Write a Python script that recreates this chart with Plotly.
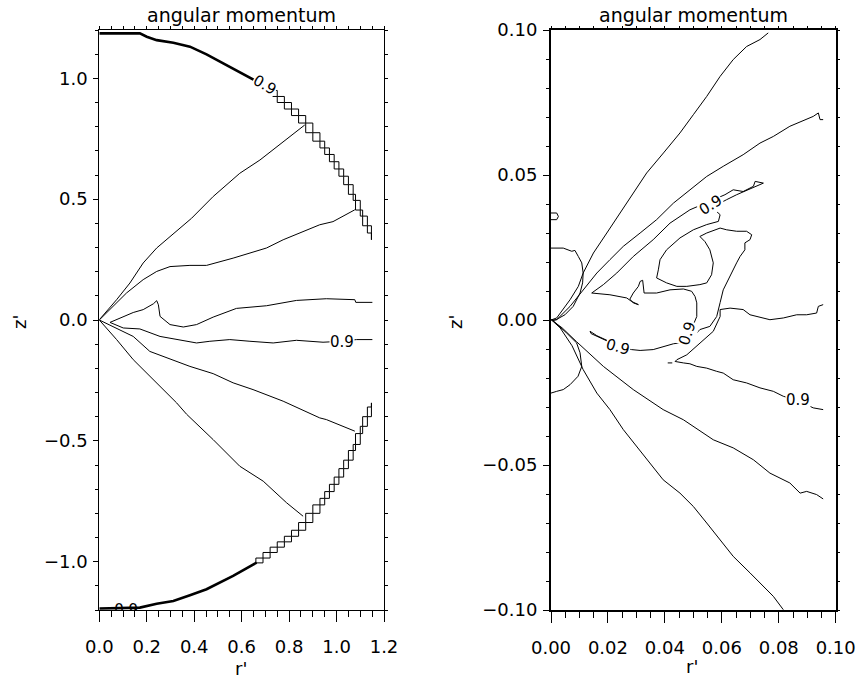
import plotly.graph_objects as go

# ---------------- left panel (r' 0..1.2, z' -1.2..1.2) ----------------
L_bnd_top_r = [0.0, 0.171, 0.200, 0.242, 0.312, 0.382, 0.452, 0.564, 0.663]
L_bnd_top_z = [1.186, 1.186, 1.172, 1.158, 1.147, 1.131, 1.099, 1.041, 0.988]
L_stair_top_r = [0.66, 0.69, 0.72, 0.75, 0.78, 0.81, 0.84, 0.87, 0.90, 0.93, 0.95, 0.97,
                 0.99, 1.01, 1.03, 1.05, 1.07, 1.08, 1.10, 1.11, 1.13, 1.147, 1.147]
L_stair_top_z = [0.99, 0.97, 0.95, 0.925, 0.90, 0.873, 0.846, 0.815, 0.775, 0.74, 0.712, 0.685,
                 0.655, 0.625, 0.595, 0.56, 0.52, 0.495, 0.455, 0.43, 0.39, 0.36, 0.332]
L_bnd_bot_r = [0.0, 0.171, 0.242, 0.312, 0.382, 0.452, 0.564, 0.663]
L_bnd_bot_z = [-1.194, -1.190, -1.174, -1.163, -1.139, -1.114, -1.059, -1.004]
L_stair_bot_r = [0.66, 0.69, 0.72, 0.75, 0.78, 0.81, 0.84, 0.87, 0.90, 0.93, 0.95, 0.97,
                 0.99, 1.01, 1.03, 1.05, 1.07, 1.08, 1.10, 1.11, 1.13, 1.147, 1.147]
L_stair_bot_z = [-1.005, -0.985, -0.962, -0.94, -0.918, -0.895, -0.87, -0.838, -0.80, -0.765, -0.738, -0.71,
                 -0.68, -0.65, -0.615, -0.58, -0.54, -0.515, -0.47, -0.44, -0.40, -0.36, -0.343]
L_ray1_top_r = [0.0, 0.031, 0.073, 0.129, 0.185, 0.242, 0.298, 0.389, 0.480, 0.592, 0.677, 0.747, 0.831, 0.866]
L_ray1_top_z = [0.001, 0.036, 0.084, 0.153, 0.236, 0.298, 0.346, 0.421, 0.511, 0.607, 0.662, 0.717, 0.779, 0.807]
L_ray2_top_r = [0.0, 0.045, 0.115, 0.185, 0.242, 0.298, 0.382, 0.452, 0.564, 0.705, 0.775, 0.929, 0.985, 1.077]
L_ray2_top_z = [0.0, 0.043, 0.112, 0.167, 0.201, 0.221, 0.226, 0.226, 0.256, 0.298, 0.332, 0.394, 0.407, 0.456]
L_ray1_bot_r = [0.0, 0.073, 0.143, 0.242, 0.326, 0.368, 0.438, 0.480, 0.592, 0.691, 0.789, 0.859]
L_ray1_bot_z = [0.0, -0.081, -0.164, -0.262, -0.343, -0.39, -0.453, -0.495, -0.605, -0.667, -0.756, -0.812]
L_ray2_bot_r = [0.0, 0.087, 0.143, 0.213, 0.284, 0.382, 0.480, 0.564, 0.648, 0.775, 0.929, 0.957, 1.077]
L_ray2_bot_z = [0.0, -0.040, -0.068, -0.130, -0.157, -0.192, -0.222, -0.260, -0.288, -0.336, -0.405, -0.412, -0.460]
L_inner_r = [1.151, 1.081, 1.077, 0.957, 0.831, 0.705, 0.578, 0.480, 0.410, 0.354, 0.298, 0.256, 0.249,
             0.242, 0.228, 0.185, 0.143, 0.101, 0.045, 0.101, 0.171, 0.256, 0.326, 0.410, 0.466, 0.550,
             0.635, 0.733, 0.831, 0.943, 1.021, 1.084, 1.151]
L_inner_z = [0.073, 0.073, 0.084, 0.088, 0.081, 0.059, 0.048, 0.012, -0.019, -0.029, -0.019, 0.015, 0.063,
             0.080, 0.067, 0.043, 0.031, 0.012, -0.010, -0.033, -0.037, -0.068, -0.081, -0.095, -0.088, -0.081,
             -0.088, -0.095, -0.084, -0.092, -0.088, -0.081, -0.081]

# ---------------- right panel (r' 0..0.1, z' -0.1..0.1) ----------------
R_a_top_r = [0.0, 0.0020, 0.0067, 0.0096, 0.0113, 0.0149, 0.0196, 0.0242, 0.0289, 0.0336, 0.0395, 0.0453,
             0.0500, 0.0547, 0.0594, 0.0640, 0.0687, 0.0734, 0.0763]
R_a_top_z = [0.0, 0.0007, 0.0070, 0.0116, 0.0162, 0.0231, 0.0300, 0.0369, 0.0438, 0.0507, 0.0576, 0.0645,
             0.0708, 0.0771, 0.0840, 0.0898, 0.0943, 0.0967, 0.0990]
R_b_top_r = [0.0, 0.0020, 0.0067, 0.0113, 0.0161, 0.0207, 0.0254, 0.0313, 0.0371, 0.0430, 0.0488, 0.0547,
             0.0605, 0.0675, 0.0734, 0.0781, 0.0839, 0.0921, 0.0939, 0.0945, 0.0956]
R_b_top_z = [0.0, 0.0001, 0.0047, 0.0104, 0.0162, 0.0208, 0.0254, 0.0300, 0.0346, 0.0403, 0.0449, 0.0495,
             0.0530, 0.0570, 0.0610, 0.0633, 0.0668, 0.0702, 0.0714, 0.0691, 0.0691]
R_fin_r = [0.0143, 0.0184, 0.0231, 0.0289, 0.0359, 0.0418, 0.0488, 0.0517, 0.0566, 0.0611, 0.0640, 0.0675,
           0.0711, 0.0717, 0.0746, 0.0734, 0.0687, 0.0652, 0.0617, 0.0594, 0.0582, 0.0594, 0.0588, 0.0547,
           0.0500, 0.0453, 0.0406, 0.0383, 0.0377, 0.0371, 0.0406, 0.0442, 0.0477, 0.0523, 0.0547, 0.0564,
           0.0570, 0.0558, 0.0541, 0.0523, 0.0547, 0.0594, 0.0617, 0.0652, 0.0687, 0.0705, 0.0699, 0.0681,
           0.0681, 0.0664, 0.0652, 0.0640, 0.0622, 0.0605, 0.0594, 0.0582, 0.0558, 0.0523, 0.0500, 0.0482]
R_fin_z = [0.0093, 0.0122, 0.0162, 0.0219, 0.0277, 0.0334, 0.0380, 0.0392, 0.0411, 0.0432, 0.0449, 0.0443,
           0.0461, 0.0478, 0.0472, 0.0467, 0.0449, 0.0432, 0.0415, 0.0403, 0.0374, 0.0363, 0.0340, 0.0329,
           0.0311, 0.0283, 0.0242, 0.0208, 0.0173, 0.0145, 0.0128, 0.0116, 0.0116, 0.0122, 0.0128, 0.0156,
           0.0197, 0.0242, 0.0270, 0.0288, 0.0300, 0.0317, 0.0311, 0.0306, 0.0306, 0.0294, 0.0277, 0.0266,
           0.0242, 0.0219, 0.0197, 0.0173, 0.0139, 0.0104, 0.0060, 0.0012, -0.0022, -0.0033, -0.0057, -0.0079]
R_low_r = [0.0143, 0.0207, 0.0266, 0.0283, 0.0307, 0.0289, 0.0277, 0.0289, 0.0307, 0.0313, 0.0322, 0.0327,
           0.0371, 0.0418, 0.0465, 0.0494, 0.0506, 0.0512, 0.0512, 0.0500, 0.0488, 0.0488, 0.0465, 0.0430,
           0.0394, 0.0359, 0.0313, 0.0283, 0.0236, 0.0196, 0.0161, 0.0137, 0.0141, 0.0184, 0.0201]
R_low_z = [0.0093, 0.0087, 0.0076, 0.0064, 0.0053, 0.0059, 0.0072, 0.0093, 0.0116, 0.0133, 0.0137, 0.0093,
           0.0093, 0.0104, 0.0107, 0.0099, 0.0081, 0.0059, 0.0012, -0.0016, -0.0044, -0.0068, -0.0077, -0.0082,
           -0.0093, -0.0102, -0.0105, -0.0102, -0.0093, -0.0070, -0.0054, -0.0039, -0.0047, -0.0066, -0.0074]
R_v_r = [0.0956, 0.0939, 0.0933, 0.0898, 0.0863, 0.0816, 0.0769, 0.0699, 0.0675, 0.0629, 0.0594, 0.0594,
         0.0570, 0.0523, 0.0477, 0.0442, 0.0436, 0.0465, 0.0488, 0.0512, 0.0547, 0.0582, 0.0605, 0.0640,
         0.0687, 0.0734, 0.0781, 0.0816, 0.0868, 0.0921, 0.0956]
R_v_z = [0.0053, 0.0047, 0.0024, 0.0018, 0.0018, 0.0007, 0.0001, 0.0018, 0.0036, 0.0041, 0.0036, 0.0012,
         -0.0039, -0.0079, -0.0120, -0.0137, -0.0143, -0.0148, -0.0151, -0.0160, -0.0166, -0.0177, -0.0183, -0.0206,
         -0.0217, -0.0234, -0.0246, -0.0263, -0.0278, -0.0303, -0.0309]
R_dash_r = [0.0410, 0.0426]
R_dash_z = [-0.0148, -0.0148]
R_b_bot_r = [0.0002, 0.0039, 0.0090, 0.0184, 0.0289, 0.0394, 0.0465, 0.0570, 0.0640, 0.0711, 0.0769, 0.0839,
             0.0875, 0.0898, 0.0933, 0.0956]
R_b_bot_z = [0.0, -0.0027, -0.0075, -0.0160, -0.0240, -0.0309, -0.0344, -0.0413, -0.0441, -0.0482, -0.0528,
             -0.0562, -0.0597, -0.0591, -0.0602, -0.0617]
R_a_bot_r = [0.0002, 0.0032, 0.0074, 0.0113, 0.0161, 0.0207, 0.0254, 0.0301, 0.0348, 0.0394, 0.0453, 0.0500,
             0.0547, 0.0594, 0.0640, 0.0699, 0.0746, 0.0781, 0.0816]
R_a_bot_z = [0.0, -0.0027, -0.0089, -0.0171, -0.0252, -0.0309, -0.0378, -0.0436, -0.0493, -0.0551, -0.0597,
             -0.0643, -0.0700, -0.0758, -0.0815, -0.0872, -0.0919, -0.0953, -0.0999]
R_circ_r = [0.0, 0.0043, 0.0073, 0.0084, 0.0096, 0.0108, 0.0113, 0.0111, 0.0102, 0.0078, 0.0049, 0.0018,
            0.0007, 0.0020, 0.0055, 0.0090, 0.0102, 0.0108, 0.0095, 0.0067, 0.0043, 0.0020, 0.0]
R_circ_z = [0.0248, 0.0248, 0.0237, 0.0240, 0.0219, 0.0197, 0.0162, 0.0128, 0.0093, 0.0047, 0.0018, 0.0001,
            -0.0002, -0.0013, -0.0045, -0.0079, -0.0113, -0.0160, -0.0194, -0.0223, -0.0240, -0.0246, -0.0252]
R_u_r = [0.0, 0.0020, 0.0026, 0.0020, 0.0]
R_u_z = [0.0369, 0.0369, 0.0357, 0.0346, 0.0346]

# contour labels (value, r, z, angle)
L_labels = [("0.9", 0.698, 0.974, 30), ("0.9", 1.021, -0.092, 0)]
L_clip_label = ("0.9", 0.113, -1.207)
R_labels = [("0.9", 0.0561, 0.0395, -32), ("0.9", 0.0479, -0.0045, -72),
            ("0.9", 0.0236, -0.0093, 16), ("0.9", 0.0868, -0.0277, 0)]

TITLE = "angular momentum"
FONT = "DejaVu Sans"

fig = go.Figure()


def add_line(x, y, xa, ya, width=1.0, shape="linear"):
    fig.add_trace(go.Scatter(x=x, y=y, mode="lines", xaxis=xa, yaxis=ya,
                             line=dict(color="black", width=width, shape=shape),
                             showlegend=False, hoverinfo="skip"))


# left panel
add_line(L_bnd_top_r, L_bnd_top_z, "x", "y", 2.6)
add_line(L_stair_top_r, L_stair_top_z, "x", "y", 1.0, "hv")
add_line(L_stair_top_r, L_stair_top_z, "x", "y", 1.0, "vh")
add_line(L_bnd_bot_r, L_bnd_bot_z, "x", "y", 2.6)
add_line(L_stair_bot_r, L_stair_bot_z, "x", "y", 1.0, "hv")
add_line(L_stair_bot_r, L_stair_bot_z, "x", "y", 1.0, "vh")
add_line(L_ray1_top_r, L_ray1_top_z, "x", "y")
add_line(L_ray2_top_r, L_ray2_top_z, "x", "y")
add_line(L_ray1_bot_r, L_ray1_bot_z, "x", "y")
add_line(L_ray2_bot_r, L_ray2_bot_z, "x", "y")
add_line(L_inner_r, L_inner_z, "x", "y")
fig.add_trace(go.Scatter(x=[L_clip_label[1]], y=[L_clip_label[2]], mode="text", text=[L_clip_label[0]],
                         textfont=dict(family=FONT, size=15, color="black"), cliponaxis=True,
                         xaxis="x", yaxis="y", showlegend=False, hoverinfo="skip"))

# right panel
for rr, zz in [(R_a_top_r, R_a_top_z), (R_b_top_r, R_b_top_z), (R_fin_r, R_fin_z), (R_low_r, R_low_z),
               (R_v_r, R_v_z), (R_dash_r, R_dash_z), (R_b_bot_r, R_b_bot_z), (R_a_bot_r, R_a_bot_z),
               (R_circ_r, R_circ_z), (R_u_r, R_u_z)]:
    add_line(rr, zz, "x2", "y2")

# dummy traces for the tick-only overlay axes (top / right)
for xa, ya in [("x3", "y3"), ("x4", "y4")]:
    fig.add_trace(go.Scatter(x=[None], y=[None], xaxis=xa, yaxis=ya, showlegend=False, hoverinfo="skip"))

LXD = [99.3 / 858, 384 / 858]
RXD = [551 / 858, 835.7 / 858]
YD = [1 - 610 / 683, 1 - 30 / 683]
tickfont = dict(family=FONT, size=18, color="black")


def main_axis(domain, rng, dtick, mdtick, fmt, tlen, mlen, anchor, lw, standoff):
    return dict(domain=domain, range=rng, anchor=anchor, tickmode="linear", tick0=0, dtick=dtick,
                tickformat=fmt, ticks="outside", ticklen=tlen, tickwidth=1, tickcolor="black",
                minor=dict(tickmode="linear", tick0=0, dtick=mdtick, ticks="outside", ticklen=mlen,
                           tickwidth=1, tickcolor="black", showgrid=False),
                showline=True, linecolor="black", linewidth=lw, mirror=True, showgrid=False,
                zeroline=False, tickfont=tickfont, ticklabelstandoff=standoff, fixedrange=True,
                automargin=False)


def over_axis(over, rng, dtick, mdtick, side, anchor, tlen):
    return dict(overlaying=over, range=rng, anchor=anchor, side=side, tickmode="linear", tick0=0,
                dtick=dtick, ticks="outside", ticklen=tlen, tickwidth=1, tickcolor="black",
                minor=dict(tickmode="linear", tick0=0, dtick=mdtick, ticks="outside", ticklen=tlen,
                           tickwidth=1, tickcolor="black", showgrid=False),
                showticklabels=False, showline=False, showgrid=False, zeroline=False, fixedrange=True,
                automargin=False)


def txt_ann(text, px, py, angle=0, size=18):
    return dict(text=text, xref="paper", yref="paper", x=px / 858, y=1 - py / 683,
                xanchor="center", yanchor="middle", textangle=angle, showarrow=False,
                font=dict(family=FONT, size=size, color="black"))


annotations = [
    txt_ann(TITLE, 241.5, 15, size=19),
    txt_ann(TITLE, 693.3, 15, size=19),
    txt_ann("r'", 241, 668),
    txt_ann("r'", 692, 666),
    txt_ann("z'", 19, 322, -90),
    txt_ann("z'", 455, 322, -90),
]
for txt, rx, rz, ang in L_labels:
    annotations.append(dict(text=txt, xref="x", yref="y", x=rx, y=rz, textangle=ang, showarrow=False,
                            xanchor="center", yanchor="middle",
                            bgcolor="white", borderpad=0, font=dict(family=FONT, size=15, color="black")))
for txt, rx, rz, ang in R_labels:
    annotations.append(dict(text=txt, xref="x2", yref="y2", x=rx, y=rz, textangle=ang, showarrow=False,
                            xanchor="center", yanchor="middle",
                            bgcolor="white", borderpad=0, font=dict(family=FONT, size=15, color="black")))

fig.update_layout(
    width=858, height=683, margin=dict(l=0, r=0, t=0, b=0, autoexpand=False),
    paper_bgcolor="white", plot_bgcolor="white", showlegend=False,
    xaxis=main_axis(LXD, [0, 1.2], 0.2, 0.05, ".1f", 11, 6, "y", 1, 9),
    yaxis=main_axis(YD, [-1.2, 1.2], 0.5, 0.1, ".1f", 5, 3, "x", 1, 2),
    xaxis2=main_axis(RXD, [0, 0.1], 0.02, 0.005, ".2f", 11, 6, "y2", 2, 9),
    yaxis2=main_axis(YD, [-0.1, 0.1], 0.05, 0.01, ".2f", 6, 3, "x2", 2, 2),
    xaxis3=over_axis("x", [0, 1.2], 0.2, 0.05, "top", "y", 3),
    yaxis3=over_axis("y", [-1.2, 1.2], 0.5, 0.1, "right", "x", 3),
    xaxis4=over_axis("x2", [0, 0.1], 0.02, 0.005, "top", "y2", 3),
    yaxis4=over_axis("y2", [-0.1, 0.1], 0.05, 0.01, "right", "x2", 3),
    annotations=annotations,
)

fig.write_html("out.html")
